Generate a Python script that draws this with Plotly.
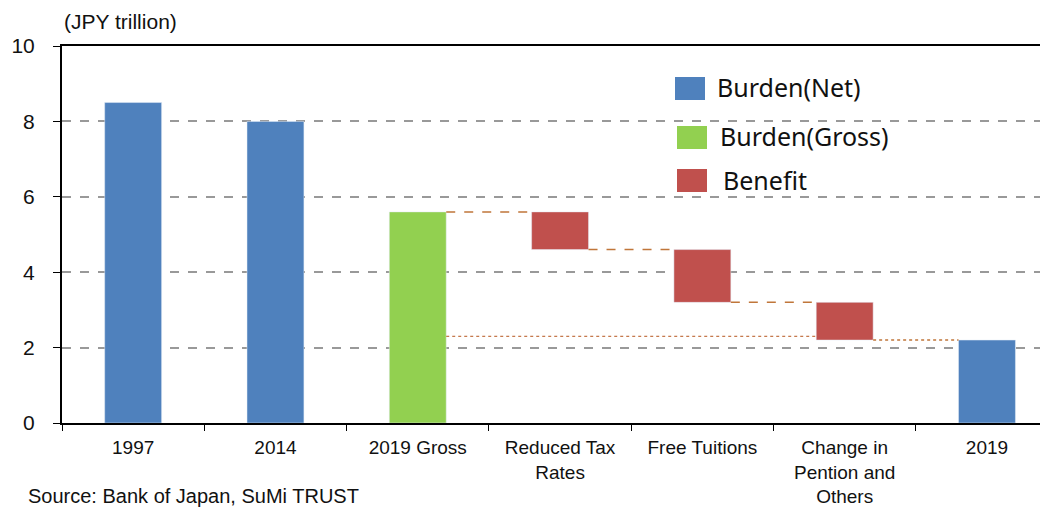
import plotly.graph_objects as go

# data (JPY trillion)
categories = ['1997', '2014', '2019 Gross', 'Reduced Tax<br>Rates', 'Free Tuitions',
              'Change in<br>Pention and<br>Others', '2019']
net_cats = ['1997', '2014', '2019']
net_vals = [8.5, 8.0, 2.2]
gross_cats = ['2019 Gross']
gross_vals = [5.6]
benefit_cats = ['Reduced Tax<br>Rates', 'Free Tuitions', 'Change in<br>Pention and<br>Others']
benefit_top = [5.6, 4.6, 3.2]
benefit_bottom = [4.6, 3.2, 2.2]
net_ref_level = 2.3

BLUE, GREEN, RED = '#4F81BD', '#92D050', '#C0504D'
W = 0.4
FONT = 'Liberation Sans, Arial, sans-serif'

fig = go.Figure()
fig.add_bar(x=net_cats, y=net_vals, marker_color=BLUE, width=W, name='Burden(Net)')
fig.add_bar(x=gross_cats, y=gross_vals, marker_color=GREEN, width=W, name='Burden(Gross)')
fig.add_bar(x=benefit_cats, y=[t - b for t, b in zip(benefit_top, benefit_bottom)],
            base=benefit_bottom, marker_color=RED, width=W, name='Benefit')

# connector lines between the waterfall steps
levels = gross_vals + benefit_bottom
for i, lv in enumerate(levels):
    x0 = 2 + i + W / 2
    x1 = 3 + i - W / 2
    dash = 'dot' if i == len(levels) - 1 else 'dash'
    fig.add_shape(type='line', xref='x', yref='y', x0=x0, x1=x1, y0=lv, y1=lv,
                  line=dict(color='#C0763A', width=1.5, dash=dash))
fig.add_shape(type='line', xref='x', yref='y', x0=2 + W / 2, x1=5 - W / 2,
              y0=net_ref_level, y1=net_ref_level,
              line=dict(color='#B5561E', width=1, dash='dot'))

# page pixels -> paper coords (page body adds an 8px offset)
def px(x):
    return (x - 62) / 994

def py(y):
    return (423 - y) / 377

# custom legend
legend = [('Burden(Net)', BLUE, 675, 77, 715, 87),
          ('Burden(Gross)', GREEN, 677, 126, 718, 136),
          ('Benefit', RED, 677, 169, 721, 180)]
for label, col, sx, sy, tx, ty in legend:
    fig.add_shape(type='rect', xref='paper', yref='paper',
                  x0=px(sx), x1=px(sx + 30), y0=py(sy + 23), y1=py(sy),
                  fillcolor=col, line_width=0)
    fig.add_annotation(xref='paper', yref='paper', x=px(tx), y=py(ty), text=label,
                       showarrow=False, xanchor='left', yanchor='middle',
                       font=dict(family='Noto Sans, sans-serif', size=25, color='#111'))

fig.add_annotation(xref='paper', yref='paper', x=px(62), y=py(21), text='(JPY trillion)',
                   showarrow=False, xanchor='left', yanchor='middle',
                   font=dict(family=FONT, size=21, color='#111'))
fig.add_annotation(xref='paper', yref='paper', x=px(26), y=py(483),
                   text='Source: Bank of Japan, SuMi TRUST',
                   showarrow=False, xanchor='left', yanchor='top',
                   font=dict(family=FONT, size=20, color='#111'))

fig.update_layout(width=1048, height=507, barmode='overlay',
                  margin=dict(l=54, r=0, t=38, b=92),
                  plot_bgcolor='white', paper_bgcolor='white',
                  showlegend=False, font=dict(family=FONT, size=20, color='#111'))
fig.update_xaxes(type='category', categoryorder='array', categoryarray=categories,
                 range=[-0.5, 6.485], showline=True, linecolor='black', linewidth=2,
                 mirror=True, ticks='outside', tickson='boundaries', ticklen=6,
                 tickcolor='black', showgrid=False, tickfont=dict(size=19),
                 ticklabelstandoff=6, automargin=False)
fig.update_yaxes(range=[0, 10], dtick=2, showline=True, linecolor='black', linewidth=2,
                 ticks='outside', ticklen=7, tickcolor='black',
                 gridcolor='#999999', gridwidth=1.5, griddash='dash',
                 zeroline=False, tickfont=dict(size=21), ticklabelstandoff=14,
                 automargin=False)

fig.write_html('out.html')
